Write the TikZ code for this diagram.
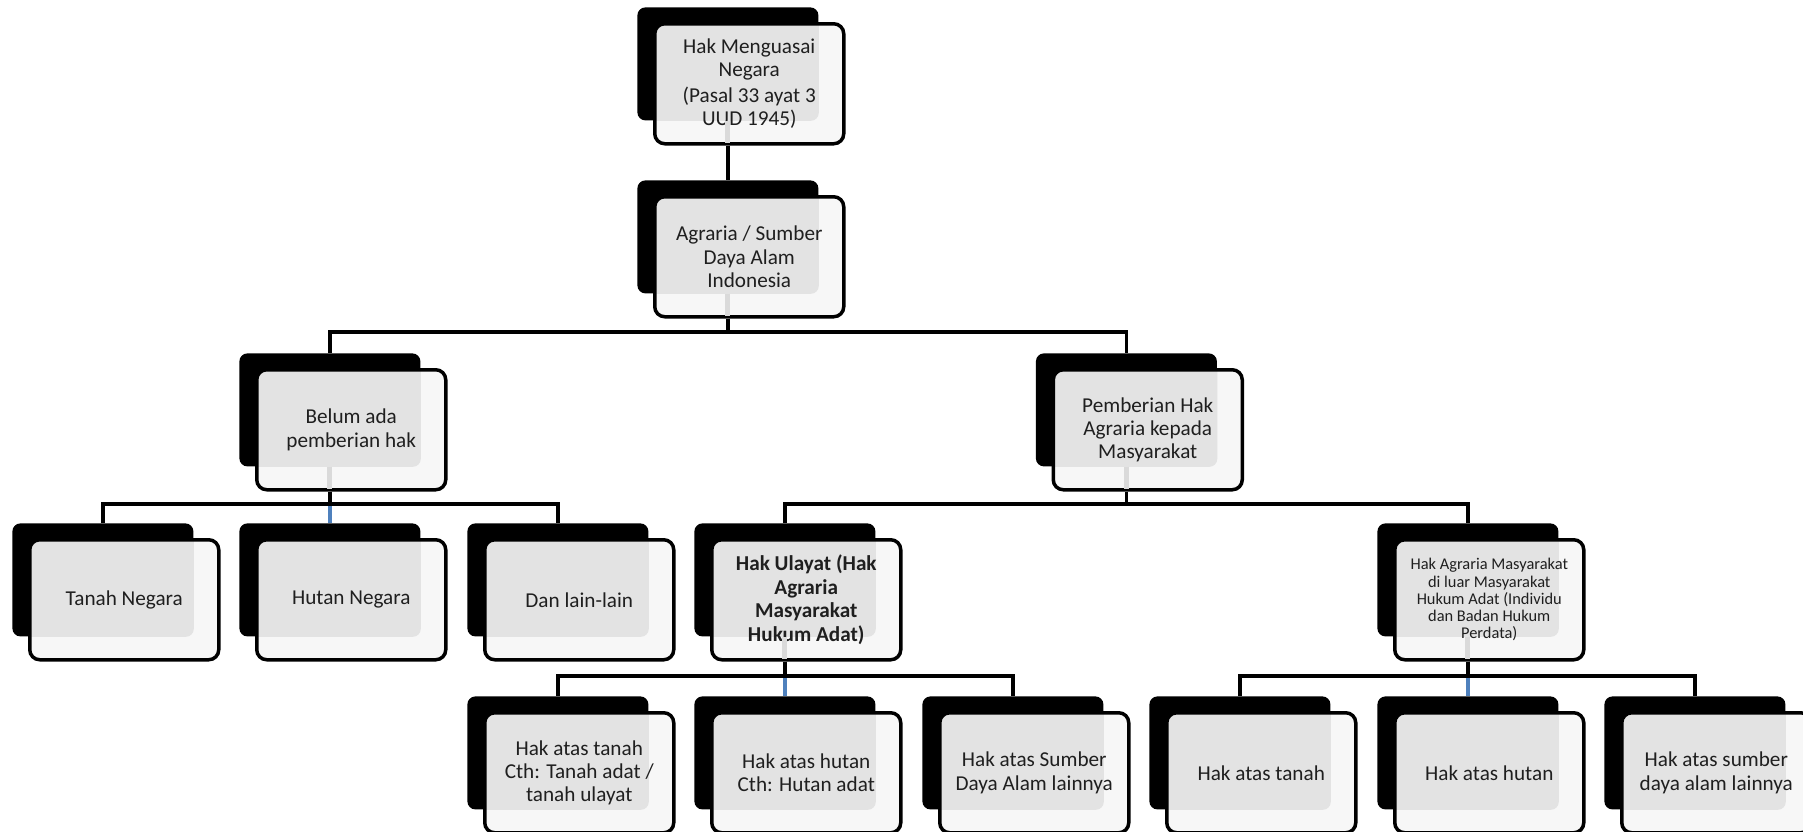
\documentclass[tikz,border=0pt]{standalone}
\usepackage{fontspec}
\setmainfont{Carlito}
\definecolor{frontfill}{HTML}{F7F7F7}
\definecolor{innerfill}{HTML}{E3E3E3}
\definecolor{textcol}{HTML}{1F1F1F}
\definecolor{midblue}{HTML}{4F81BD}
\definecolor{ghostgray}{HTML}{DADADA}
\tikzset{
 backbox/.style={anchor=north west, fill=black, rounded corners=4pt, minimum width=90.5pt, minimum height=56.5pt, inner sep=0pt, draw=none},
 frontbox/.style={anchor=north west, fill=frontfill, draw=black, line width=1.75pt, rounded corners=5pt, minimum width=94.5pt, minimum height=60pt, inner sep=0pt, align=center, text=textcol, font=\fontsize{10.6}{11.7}\selectfont},
 smalltext/.style={font=\fontsize{8.2}{8.6}\selectfont},
 boldtext/.style={font=\fontsize{10.6}{11.7}\selectfont\bfseries},
 conn/.style={draw=black, line width=1.75pt},
 midconn/.style={draw=midblue, line width=1.6pt},
 ghost/.style={draw=ghostgray, line width=2.5pt},
}
\newcommand{\orgbox}[5]{%
 \node[backbox] (#1b) at (#2,#3) {};
 \node[frontbox, path picture={\fill[innerfill, rounded corners=4pt] (#1b.north west) rectangle (#1b.south east);}, #4] (#1) at ([xshift=8pt,yshift=-7.5pt]#1b.north west) {#5};
}
\newcommand{\ghostline}[1]{\draw[ghost] (#1b.south) -- ([yshift=1.2pt]#1b.south |- #1.south);}
\begin{document}
\begin{tikzpicture}[x=0.5pt, y=-0.5pt]
\fill[white] (0,0) rectangle (1803,831);
\useasboundingbox (0,0) rectangle (1803,831);

\orgbox{top}{637}{7}{}{Hak Menguasai\\Negara\\[1pt](Pasal 33 ayat 3\\UUD 1945)}
\orgbox{ag}{637}{180}{}{Agraria / Sumber\\Daya Alam\\Indonesia}
\orgbox{bel}{239}{353}{}{Belum ada\\pemberian hak}
\orgbox{pem}{1035.5}{353}{}{Pemberian Hak\\Agraria kepada\\Masyarakat}
\orgbox{tn}{12}{523}{}{Tanah Negara}
\orgbox{hn}{239}{523}{}{Hutan Negara}
\orgbox{dll}{467}{523}{}{Dan lain-lain}
\orgbox{hu}{694}{523}{boldtext}{Hak Ulayat (Hak\\Agraria\\Masyarakat\\Hukum Adat)}
\orgbox{ham}{1377}{523}{smalltext}{Hak Agraria Masyarakat\\di luar Masyarakat\\Hukum Adat (Individu\\dan Badan Hukum\\Perdata)}
\orgbox{hat}{467}{696}{}{Hak atas tanah\\Cth: Tanah adat /\\tanah ulayat}
\orgbox{hah}{694}{696}{}{Hak atas hutan\\Cth: Hutan adat}
\orgbox{has}{922}{696}{}{Hak atas Sumber\\Daya Alam lainnya}
\orgbox{hatt}{1149}{696}{}{Hak atas tanah}
\orgbox{hahh}{1377}{696}{}{Hak atas hutan}
\orgbox{hass}{1604}{696}{}{Hak atas sumber\\daya alam lainnya}

\ghostline{top}
\ghostline{ag}
\ghostline{bel}
\ghostline{pem}
\ghostline{hu}
\ghostline{ham}

\coordinate (L1) at (0,332);
\coordinate (L2) at (0,504);
\coordinate (L3) at (0,676);

\draw[conn] (topb.center |- top.south) -- (agb.north);
\foreach \c in {bel,pem}{\draw[conn] (agb.center |- ag.south) -- (agb.center |- L1) -| (\c b.north);}
\foreach \c in {tn,hn,dll}{\draw[conn] (belb.center |- bel.south) -- (belb.center |- L2) -| (\c b.north);}
\foreach \c in {hu,ham}{\draw[conn] (pemb.center |- pem.south) -- (pemb.center |- L2) -| (\c b.north);}
\foreach \c in {hat,hah,has}{\draw[conn] (hub.center |- hu.south) -- (hub.center |- L3) -| (\c b.north);}
\foreach \c in {hatt,hahh,hass}{\draw[conn] (hamb.center |- ham.south) -- (hamb.center |- L3) -| (\c b.north);}
\draw[midconn] ([yshift=-0.9pt]hnb.north |- L2) -- (hnb.north);
\draw[midconn] ([yshift=-0.9pt]hahb.north |- L3) -- (hahb.north);
\draw[midconn] ([yshift=-0.9pt]hahhb.north |- L3) -- (hahhb.north);
\end{tikzpicture}
\end{document}
